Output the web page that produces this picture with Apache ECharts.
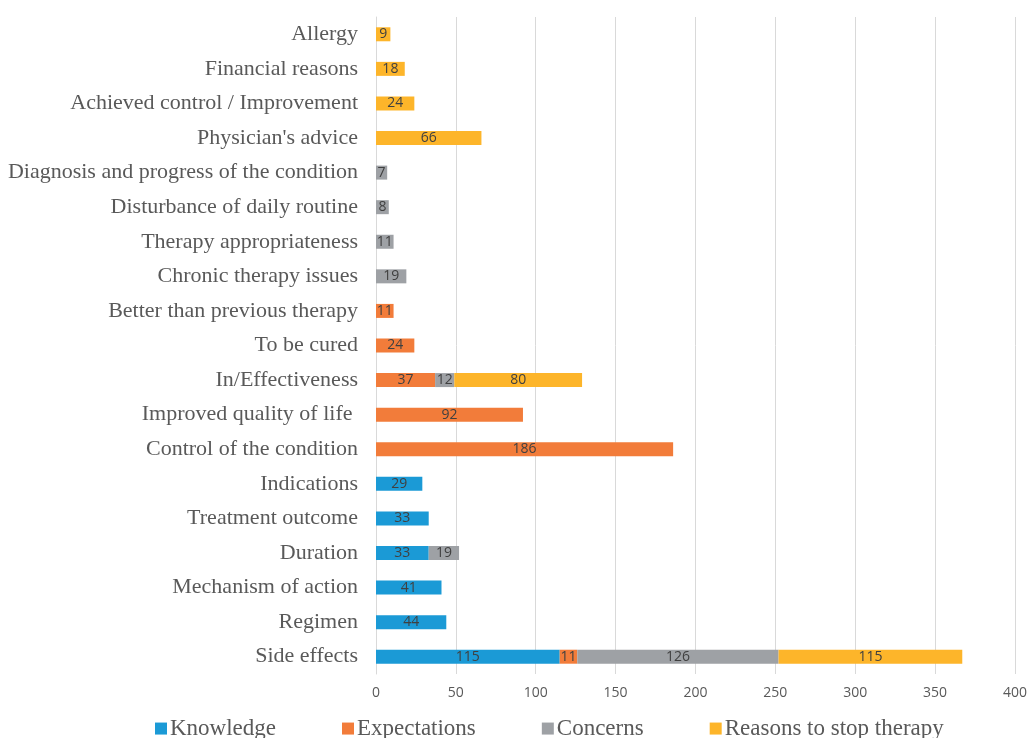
<html>
<head>
<script src="https://cdn.jsdelivr.net/npm/echarts@6/dist/echarts.min.js"></script>
<style>body{margin:0;background:#fff;}</style>
</head>
<body>
<div id="main" style="width:1030px;height:738px;"></div>
<script>
// categories bottom -> top
var categories = ['Side effects', 'Regimen', 'Mechanism of action', 'Duration', 'Treatment outcome', 'Indications',
    'Control of the condition', 'Improved quality of life ', 'In/Effectiveness', 'To be cured', 'Better than previous therapy',
    'Chronic therapy issues', 'Therapy appropriateness', 'Disturbance of daily routine', 'Diagnosis and progress of the condition',
    "Physician's advice", 'Achieved control / Improvement', 'Financial reasons', 'Allergy'];
var knowledge    = [115, 44, 41, 33, 33, 29, '-', '-', '-', '-', '-', '-', '-', '-', '-', '-', '-', '-', '-'];
var expectations = [11, '-', '-', '-', '-', '-', 186, 92, 37, 24, 11, '-', '-', '-', '-', '-', '-', '-', '-'];
var concerns     = [126, '-', '-', 19, '-', '-', '-', '-', 12, '-', '-', 19, 11, 8, 7, '-', '-', '-', '-'];
var reasons      = [115, '-', '-', '-', '-', '-', '-', '-', 80, '-', '-', '-', '-', '-', '-', 66, 24, 18, 9];

var names = ['Knowledge', 'Expectations', 'Concerns', 'Reasons to stop therapy'];
var colors = ['#1b9ad6', '#f27c3a', '#9ea1a5', '#fdb52a'];
var values = [knowledge, expectations, concerns, reasons];

var myChart = echarts.init(document.getElementById('main'));
var series = names.map(function (n, i) {
    return {
        name: n,
        type: 'bar',
        stack: 'all',
        barWidth: 14,
        data: values[i],
        itemStyle: {color: colors[i]},
        label: {
            show: true,
            position: 'inside',
            color: '#404040',
            fontSize: 14,
            fontFamily: 'Open Sans'
        }
    };
});
var option = {
    animation: false,
    grid: {left: 376, right: 15, top: 17, bottom: 64},
    legend: {
        data: names,
        top: 706,
        left: 150,
        itemGap: 66,
        itemWidth: 12,
        itemHeight: 12,
        icon: 'rect',
        textStyle: {fontFamily: 'Liberation Serif', fontSize: 23, color: '#595959', padding: [0, 0, 0, -2]}
    },
    xAxis: {
        type: 'value',
        min: 0,
        max: 400,
        interval: 50,
        axisLine: {show: false},
        axisTick: {show: false},
        splitLine: {lineStyle: {color: '#d9d9d9', width: 1}},
        axisLabel: {fontFamily: 'Open Sans', fontSize: 14, color: '#595959', margin: 8}
    },
    yAxis: {
        type: 'category',
        data: categories,
        axisLine: {lineStyle: {color: '#d9d9d9'}},
        axisTick: {show: false},
        axisLabel: {interval: 0, fontFamily: 'Liberation Serif', fontSize: 22, color: '#595959', margin: 18}
    },
    series: series
};
myChart.setOption(option);
</script>
</body>
</html>
